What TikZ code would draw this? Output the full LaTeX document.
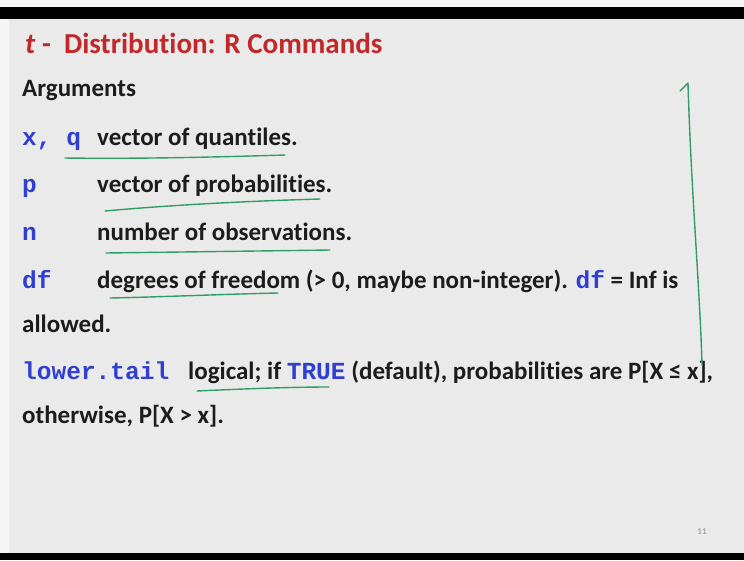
\documentclass[tikz,border=0pt]{standalone}
\usepackage{fontspec}
\setmainfont{Carlito}[Ligatures=NoCommon]
\newfontfamily\codefont{Liberation Mono}

\definecolor{slidebg}{HTML}{EAEAEA}
\definecolor{titlered}{HTML}{C0282A}
\definecolor{codeblue}{HTML}{2F3FD2}
\definecolor{textdark}{HTML}{1C1C1C}
\definecolor{pengreen}{HTML}{2E9E63}

\newcommand{\rcode}[1]{{\fontsize{24.5}{28}\selectfont\codefont\bfseries\color{codeblue}#1}}

\tikzset{
  txt/.style={anchor=base west, inner sep=0pt, text=textdark,
    font=\fontsize{25}{30}\selectfont\bfseries},
  codetxt/.style={anchor=base west, inner sep=0pt, text=codeblue,
    font=\fontsize{24.5}{28}\selectfont\codefont\bfseries},
  pen/.style={draw=pengreen, line width=1.4pt, line cap=round, line join=round}
}

\begin{document}
\begin{tikzpicture}[x=1pt,y=-1pt]
\useasboundingbox (0,0) rectangle (744,560);
\fill[white!96!black] (0,0) rectangle (744,560);
\fill[black] (0,7) rectangle (744,19);
\fill[slidebg] (9,19) rectangle (744,553);
\fill[black] (0,553) rectangle (744,560);

\node[anchor=base west, inner sep=0pt, text=titlered,
  font=\fontsize{29}{34}\selectfont\bfseries] (title) at (25,53)
  {\textit{t} -\ \ Distribution: R Commands};
\node[txt] (args) at (22,96) {Arguments};

\node[codetxt] (xq) at (22,145) {x, q};
\node[txt] (xqdesc) at (97,145) {vector of quantiles.};
\node[codetxt] (p) at (22,192) {p};
\node[txt] (pdesc) at (97,192) {vector of probabilities.};
\node[codetxt] (n) at (22,240) {n};
\node[txt] (ndesc) at (97,240) {number of observations.};
\node[codetxt] (df) at (22,288) {df};
\node[txt] (dfdesc) at (97,288) {degrees of freedom (> 0, maybe non-integer). \rcode{df} = Inf is};
\node[txt] (allowed) at (22,332) {allowed.};
\node[codetxt] (lt) at (22,379) {lower.tail};
\node[txt] (ltdesc) at (188,379) {logical; if \rcode{TRUE} (default), probabilities are P[X ≤ x],};
\node[txt] (other) at (22,423) {otherwise, P[X > x].};

\node[anchor=base, inner sep=0pt, text=black!35,
  font=\fontsize{9}{10}\selectfont\bfseries] (pgnum) at (702,534) {11};

\draw[pen] (65,158) .. controls (140,159) and (220,157) .. (285,155);
\draw[pen] (105,211) .. controls (170,205) and (250,201) .. (320,199);
\draw[pen] (106,253) .. controls (180,252) and (260,251) .. (330,250);
\draw[pen] (110,298) .. controls (160,297) and (230,294) .. (278,293);
\draw[pen] (197,391) .. controls (240,389) and (290,387) .. (329,387);
\draw[pen] (680,91) -- (688,83) .. controls (691,190) and (700,290) .. (702,365);
\end{tikzpicture}
\end{document}
